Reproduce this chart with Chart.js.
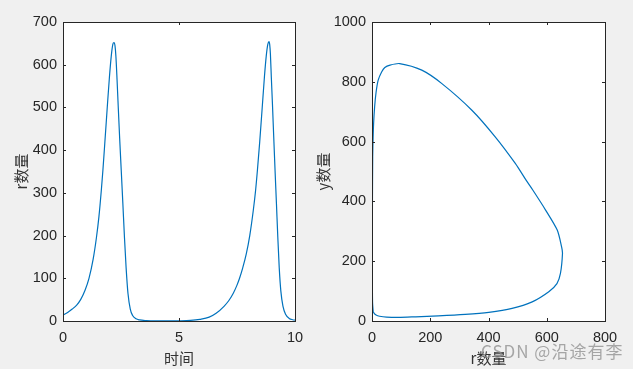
<!DOCTYPE html>
<html>
<head>
<meta charset="utf-8">
<script src="https://cdn.jsdelivr.net/npm/chart.js@4"></script>
<style>
  body { margin: 0; background: #f0f0f0; width: 633px; height: 369px; overflow: hidden; position: relative; }
  canvas { position: absolute; top: 0; }
  #mark { position: absolute; left: 481px; top: 338px; font: 17px "Noto Sans CJK SC", sans-serif; letter-spacing: 1px; color: rgba(140,140,140,0.75); white-space: nowrap; }
</style>
</head>
<body>
<canvas id="leftChart" width="313" height="369" style="left:0"></canvas>
<canvas id="rightChart" width="320" height="369" style="left:313px"></canvas>
<div id="mark">CSDN @沿途有李</div>
<script>
// left plot: r over time
const time = [0, 0.2, 0.4, 0.6, 0.76, 0.95, 1.12, 1.3, 1.44, 1.55, 1.65, 1.72, 1.8, 1.91, 2.0, 2.08, 2.15, 2.2,
    2.24, 2.28, 2.33, 2.37, 2.44, 2.51, 2.58, 2.65, 2.72, 2.8, 2.9, 3.0, 3.15, 3.3, 3.6, 4.0, 4.5, 5.0, 5.5, 5.9, 6.3, 6.6,
    6.95, 7.15, 7.34, 7.5, 7.61, 7.75, 7.9, 8.05, 8.2, 8.3, 8.38, 8.48, 8.59, 8.68, 8.76, 8.83, 8.88,
    8.91, 8.94, 8.98, 9.03, 9.08, 9.14, 9.2, 9.26, 9.32, 9.39, 9.48, 9.6, 9.75, 9.9, 10]
const rCount = [14, 20, 28, 38, 50, 72, 100, 145, 195, 245, 305, 353, 415, 502, 570, 620, 648, 652,
    645, 620, 565, 515, 430, 353, 275, 195, 125, 65, 28, 13, 5, 2.5, 1, 0.3, 0.2, 0.5, 1.5, 4, 9, 18,
    35, 48, 65, 84, 100, 125, 157, 200, 258, 305, 353, 420, 502, 570, 620, 648, 654,
    647, 625, 570, 505, 435, 353, 275, 195, 125, 70, 35, 15, 6, 3, 2]

// right plot: y against r (one loop)
const phaseR = [4, 7, 14, 26, 50, 91, 150, 228, 320, 401, 481, 550, 607, 635, 647, 654, 651, 636, 596, 552, 529, 492, 423, 343, 240, 171, 95, 62, 44, 33, 21, 14, 9, 5.5, 3.6, 2.4, 1.5, 1.2, 1.3, 2, 4]
const phaseY = [33, 26, 20, 16, 13, 12, 14, 17, 22, 29, 42, 64, 98, 125, 159, 226, 248, 304, 371, 438, 471, 527, 616, 705, 794, 839, 861, 856, 848, 833, 805, 765, 716, 660, 605, 549, 400, 250, 120, 60, 33]

const leftXTicks = [0, 5, 10]
const leftYTicks = [0, 100, 200, 300, 400, 500, 600, 700]
const rightXTicks = [0, 200, 400, 600, 800]
const rightYTicks = [0, 200, 400, 600, 800, 1000]

const tickFont = { family: "'Liberation Sans', Arial, sans-serif", size: 14.5 }
const titleFont = { family: "'Noto Sans CJK SC', sans-serif", size: 15 }
const ink = '#262626'

// white axes background, black box with inward ticks like matlab
const matlabBox = {
    id: 'matlabBox',
    beforeDatasetsDraw(chart) {
        const a = chart.chartArea, c = chart.ctx
        c.save()
        c.fillStyle = '#fff'
        c.fillRect(a.left, a.top, a.right - a.left, a.bottom - a.top)
        c.restore()
    },
    afterDatasetsDraw(chart) {
        const a = chart.chartArea, c = chart.ctx
        const xs = chart.scales.x, ys = chart.scales.y
        c.save()
        c.strokeStyle = ink
        c.lineWidth = 1
        c.strokeRect(Math.round(a.left) + 0.5, Math.round(a.top) + 0.5, Math.round(a.right - a.left), Math.round(a.bottom - a.top))
        c.beginPath()
        xs.ticks.forEach(t => {
            const p = Math.round(xs.getPixelForValue(t.value)) + 0.5
            c.moveTo(p, a.bottom); c.lineTo(p, a.bottom - 3)
            c.moveTo(p, a.top); c.lineTo(p, a.top + 3)
        })
        ys.ticks.forEach(t => {
            const p = Math.round(ys.getPixelForValue(t.value)) + 0.5
            c.moveTo(a.left, p); c.lineTo(a.left + 3, p)
            c.moveTo(a.right, p); c.lineTo(a.right - 3, p)
        })
        c.stroke()
        c.restore()
    }
}

function make_axis(min, max, vals, title, isY, yWidth, titlePad) {
    return {
        type: 'linear',
        min: min,
        max: max,
        afterBuildTicks: s => { s.ticks = vals.map(v => ({ value: v })) },
        afterFit: s => { if (isY) s.width = yWidth; else s.height = 48 },
        grid: { display: false, drawTicks: false },
        border: { display: false },
        ticks: { color: ink, font: tickFont, padding: isY ? 6 : 8, maxRotation: 0, callback: v => String(v) },
        title: { display: true, text: title, color: '#333', font: titleFont, padding: titlePad }
    }
}

function draw_chart(id, xs, ys, xAxis, yAxis, tension, padRight) {
    const pts = xs.map((v, i) => ({ x: v, y: ys[i] }))
    new Chart(document.getElementById(id), {
        type: 'scatter',
        data: {
            datasets: [{
                data: pts,
                showLine: true,
                borderColor: '#0072BD',
                borderWidth: 1.2,
                pointRadius: 0,
                tension: tension,
                cubicInterpolationMode: tension ? 'default' : 'monotone'
            }]
        },
        options: {
            responsive: false,
            animation: false,
            layout: { padding: { left: 0, right: padRight, top: 22, bottom: 0 } },
            plugins: { legend: { display: false }, tooltip: { enabled: false } },
            scales: { x: xAxis, y: yAxis }
        },
        plugins: [matlabBox]
    })
}

draw_chart('leftChart', time, rCount,
    make_axis(0, 10, leftXTicks, '时间', false, 0, { top: 0, bottom: 2 }),
    make_axis(0, 700, leftYTicks, 'r数量', true, 63, { top: 12, bottom: 0 }),
    0, 18)

draw_chart('rightChart', phaseR, phaseY,
    make_axis(0, 800, rightXTicks, 'r数量', false, 0, { top: 0, bottom: 2 }),
    make_axis(0, 1000, rightYTicks, 'y数量', true, 59, { top: 1, bottom: 0 }),
    0.25, 28)
</script>
</body>
</html>
